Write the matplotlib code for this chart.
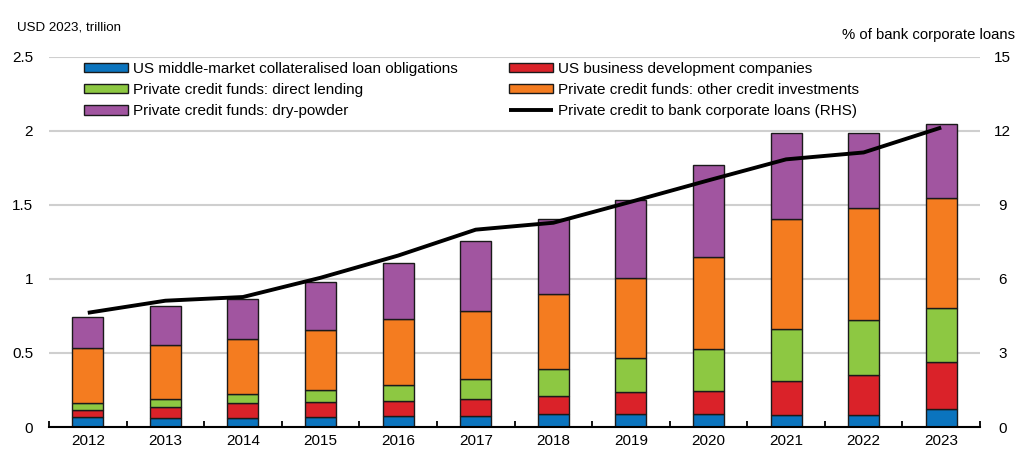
import numpy as np
import matplotlib.pyplot as plt
from matplotlib.ticker import FixedLocator, FuncFormatter

plt.rcParams['font.family'] = ['Liberation Sans', 'DejaVu Sans']

years = [str(y) for y in range(2012, 2024)]

# USD 2023, trillion (layer heights)
us_mm_clo = [0.068, 0.061, 0.063, 0.068, 0.074, 0.076, 0.088, 0.088, 0.088, 0.081, 0.081, 0.122]
us_bdc = [0.047, 0.074, 0.099, 0.101, 0.102, 0.113, 0.121, 0.148, 0.155, 0.230, 0.270, 0.317]
pc_direct = [0.047, 0.054, 0.061, 0.081, 0.108, 0.135, 0.183, 0.230, 0.284, 0.351, 0.372, 0.365]
pc_other = [0.372, 0.365, 0.372, 0.405, 0.446, 0.460, 0.507, 0.541, 0.620, 0.745, 0.757, 0.740]
pc_dry = [0.209, 0.263, 0.270, 0.325, 0.380, 0.473, 0.507, 0.527, 0.621, 0.577, 0.504, 0.506]

# % of bank corporate loans (RHS)
pc_to_bank = [4.63, 5.12, 5.27, 6.05, 6.95, 8.0, 8.28, 9.13, 10.0, 10.85, 11.13, 12.14]

left_ticks = [0, 0.5, 1, 1.5, 2, 2.5]
right_ticks = [0, 3, 6, 9, 12, 15]

colors = {
    'clo': '#0B74BE',
    'bdc': '#DA2229',
    'direct': '#8DC842',
    'other': '#F47C20',
    'dry': '#A155A0',
}

fig = plt.figure(figsize=(10.24, 4.61), dpi=100)
ax = fig.add_axes([49 / 1024, 1 - 427 / 461, 931 / 1024, 370 / 461])
ax2 = ax.twinx()

x = np.arange(len(years))
w = 0.4
bottom = np.zeros(len(years))
layers = [
    (us_mm_clo, colors['clo'], 'US middle-market collateralised loan obligations'),
    (us_bdc, colors['bdc'], 'US business development companies'),
    (pc_direct, colors['direct'], 'Private credit funds: direct lending'),
    (pc_other, colors['other'], 'Private credit funds: other credit investments'),
    (pc_dry, colors['dry'], 'Private credit funds: dry-powder'),
]
handles = []
for vals, c, lab in layers:
    b = ax.bar(x, vals, w, bottom=bottom, color=c, edgecolor='#1a1a1a', linewidth=1.0,
               label=lab, zorder=2)
    bottom += np.array(vals)
    handles.append(b)

ln, = ax2.plot(x, pc_to_bank, color='black', lw=2.8, solid_capstyle='butt',
               label='Private credit to bank corporate loans (RHS)')

ax.set_xlim(-0.5, len(years) - 0.5)
ax.set_ylim(0, 2.5)
ax2.set_ylim(0, 15)
ax.yaxis.set_major_locator(FixedLocator(left_ticks))
ax2.yaxis.set_major_locator(FixedLocator(right_ticks))
ax.yaxis.set_major_formatter(FuncFormatter(lambda v, p: f'{v:g}'))
ax2.yaxis.set_major_formatter(FuncFormatter(lambda v, p: f'{v:g}'))

ax.grid(axis='y', color='#cfcfcf', lw=1.5, zorder=0)
ax.set_axisbelow(True)

for a in (ax, ax2):
    for s in ('left', 'right', 'top'):
        a.spines[s].set_visible(False)
ax2.spines['bottom'].set_visible(False)
ax.spines['bottom'].set_color('black')
ax.spines['bottom'].set_linewidth(1.5)
ax.spines['bottom'].set_zorder(3)

ax.set_xticks(x)
ax.set_xticklabels(years)
ax.xaxis.set_minor_locator(FixedLocator(np.arange(-0.5, len(years), 1.0)))
ax.tick_params(axis='x', which='major', length=0, pad=5, labelsize=11)
ax.tick_params(axis='x', which='minor', length=4, width=1.3, direction='in', color='black')
ax.tick_params(axis='y', length=0, pad=11.5, labelsize=11)
ax2.tick_params(axis='y', length=0, pad=16, labelsize=11)
for t in ax2.get_yticklabels():
    t.set_horizontalalignment('center')

fig.text(17 / 1024, 1 - 27 / 461, 'USD 2023, trillion', fontsize=9.6, va='center', ha='left')
fig.text(1015 / 1024, 1 - 35 / 461, '% of bank corporate loans', fontsize=10.7, va='center', ha='right')

leg_handles = [handles[0], handles[2], handles[4], handles[1], handles[3], ln]
ax.legend(leg_handles, [h.get_label() for h in leg_handles], ncol=2, frameon=False,
          loc='upper left', bbox_to_anchor=(84 / 1024, 1 - 62 / 461),
          bbox_transform=fig.transFigure, borderpad=0, borderaxespad=0,
          fontsize=11, handlelength=2.9, handleheight=0.6, handletextpad=0.33,
          labelspacing=0.46, columnspacing=3.3)

fig.savefig('out.png', dpi=100)
